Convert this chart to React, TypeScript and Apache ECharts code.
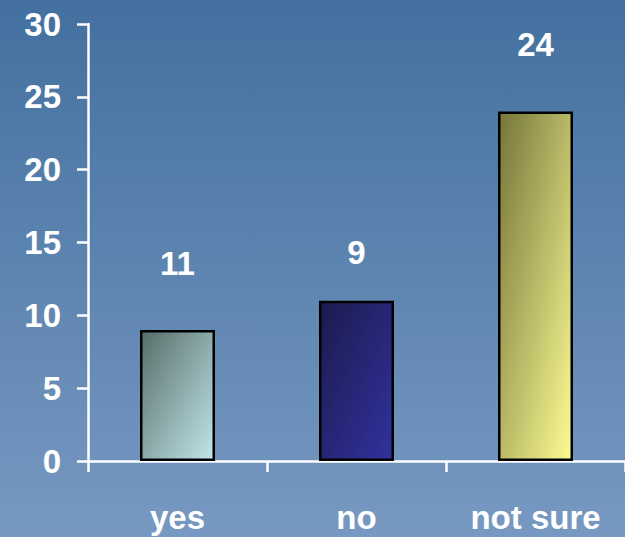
import React, { useEffect, useRef } from "react";
import * as echarts from "echarts";

// Survey answers
const categories = ["yes", "no", "not sure"];
const counts = [9, 11, 24];
// Numbers printed above each column
const statedLabels = ["11", "9", "24"];
const yTicks = { min: 0, max: 30, interval: 5 };

// Gap between a column top and its printed number (px)
const labelGaps = [50, 32, 50];

const barGradients: [string, string][] = [
  ["#566d69", "#c2e6ea"],
  ["#1b1b4e", "#31319e"],
  ["#75753a", "#fdfd94"],
];

const FONT = "'Liberation Sans', Arial, Helvetica, sans-serif";

export default function App() {
  const ref = useRef<HTMLDivElement>(null);

  useEffect(() => {
    if (!ref.current) return;
    const chart = echarts.init(ref.current, undefined, { renderer: "svg" });
    chart.setOption({
      animation: false,
      backgroundColor: new echarts.graphic.LinearGradient(0, 0, 0, 1, [
        { offset: 0, color: "#43709f" },
        { offset: 1, color: "#7799c1" },
      ]),
      grid: { left: 88, right: 0, top: 24, bottom: 76 },
      xAxis: {
        type: "category",
        data: categories,
        boundaryGap: true,
        axisLine: { lineStyle: { color: "#ffffff", width: 2.5 } },
        axisTick: { show: true, length: 11, lineStyle: { color: "#ffffff", width: 2.5 } },
        axisLabel: {
          color: "#ffffff",
          fontFamily: FONT,
          fontWeight: "bold",
          fontSize: 33,
          margin: 40,
        },
      },
      yAxis: {
        type: "value",
        min: yTicks.min,
        max: yTicks.max,
        interval: yTicks.interval,
        splitLine: { show: false },
        axisLine: { show: true, lineStyle: { color: "#ffffff", width: 2.5 } },
        axisTick: { show: true, length: 11, lineStyle: { color: "#ffffff", width: 2.5 } },
        axisLabel: {
          color: "#ffffff",
          fontFamily: FONT,
          fontWeight: "bold",
          fontSize: 33,
          margin: 27,
        },
      },
      series: [
        {
          type: "bar",
          barWidth: 75,
          data: counts.map((v, i) => ({
            value: v,
            itemStyle: {
              color: new echarts.graphic.LinearGradient(0, 0, 1, 1, [
                { offset: 0, color: barGradients[i][0] },
                { offset: 1, color: barGradients[i][1] },
              ]),
              borderColor: "#000000",
              borderWidth: 2.5,
            },
            label: { distance: labelGaps[i] },
          })),
          label: {
            show: true,
            position: "top",
            color: "#ffffff",
            fontFamily: FONT,
            fontWeight: "bold",
            fontSize: 33,
            formatter: (p: any) => statedLabels[p.dataIndex],
          },
          z: 1,
        },
      ],
    });
    return () => chart.dispose();
  }, []);

  return (
    <div
      ref={ref}
      style={{ position: "fixed", left: 0, top: 0, width: 625, height: 537 }}
    />
  );
}
